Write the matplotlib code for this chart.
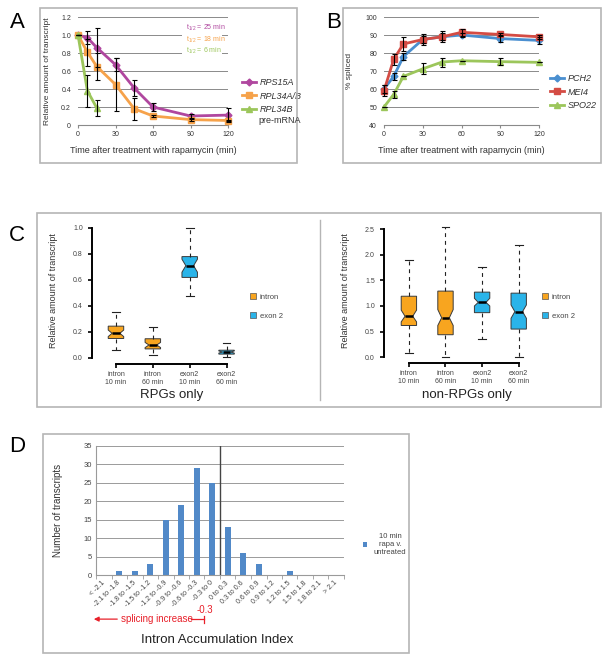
import numpy as np
import matplotlib.pyplot as plt
import matplotlib.transforms as mtransforms
from matplotlib.patches import Rectangle
from matplotlib.lines import Line2D

plt.rcParams['font.family'] = ['Liberation Sans', 'DejaVu Sans']
plt.rcParams['mathtext.fontset'] = 'custom'
plt.rcParams['mathtext.rm'] = 'Liberation Sans'
plt.rcParams['mathtext.it'] = 'Liberation Sans:italic'

W, H = 611, 663

# ---- panel A: decay of RPG transcripts ----
time_pts = [0, 7.5, 15, 30, 45, 60, 90, 120]
rps15a = [1.0, 0.97, 0.86, 0.67, 0.41, 0.20, 0.10, 0.11]
rps15a_err = [0, 0.07, 0.22, 0.07, 0.09, 0.04, 0.02, 0.08]
rpl34ab = [1.0, 0.81, 0.65, 0.45, 0.18, 0.10, 0.06, 0.05]
rpl34ab_err = [0, 0.15, 0.15, 0.29, 0.12, 0.01, 0.01, 0.01]
pre_time = [0, 7.5, 15]
rpl34b_pre = [1.0, 0.38, 0.19]
rpl34b_pre_err = [0, 0.18, 0.09]
half_lives = ['25', '18', '6']

# ---- panel B: % spliced of meiotic transcripts ----
pch2 = [60, 67, 78, 87.5, 89, 90, 88, 87]
pch2_err = [2, 2, 2, 2, 2, 1, 2, 2]
mei4 = [59, 76.5, 85, 87.5, 89, 91.5, 90.3, 89]
mei4_err = [3, 3, 4, 3, 3, 2, 1, 1]
spo22 = [50, 57, 67, 71.2, 75, 75.7, 75.2, 74.8]
spo22_err = [0, 2, 0, 3, 2.5, 0, 2, 0]

# ---- panel C: box plots ----
box_names = ['intron\n10 min', 'intron\n60 min', 'exon2\n10 min', 'exon2\n60 min']
rpg_whislo = [0.06, 0.02, 0.48, 0.005]
rpg_q1 = [0.15, 0.07, 0.62, 0.03]
rpg_med = [0.19, 0.10, 0.71, 0.046]
rpg_q3 = [0.245, 0.148, 0.78, 0.06]
rpg_whishi = [0.356, 0.24, 1.0, 0.113]
rpg_cilo = [0.165, 0.08, 0.66, 0.038]
rpg_cihi = [0.215, 0.12, 0.76, 0.054]

non_whislo = [0.09, 0.0, 0.35, 0.01]
non_q1 = [0.62, 0.44, 0.87, 0.55]
non_med = [0.80, 0.77, 1.07, 0.89]
non_q3 = [1.19, 1.29, 1.27, 1.25]
non_whishi = [1.89, 2.53, 1.76, 2.19]
non_cilo = [0.69, 0.62, 1.00, 0.76]
non_cihi = [0.92, 0.93, 1.15, 1.02]

# ---- panel D: intron accumulation index histogram ----
iai_labels = ['< -2.1', '-2.1 to -1.8', '-1.8 to -1.5', '-1.5 to -1.2',
              '-1.2 to -0.9', '-0.9 to -0.6', '-0.6 to -0.3', '-0.3 to 0',
              '0 to 0.3', '0.3 to 0.6', '0.6 to 0.9', '0.9 to 1.2',
              '1.2 to 1.5', '1.5 to 1.8', '1.8 to 2.1', '> 2.1']
iai_counts = [0, 1, 1, 3, 15, 19, 29, 25, 13, 6, 3, 0, 1, 0, 0, 0]

MAG, ORA, GRN = '#b0479f', '#f6a24a', '#9cc65b'
BLU, RED = '#4a8fd0', '#d44c44'
BOX_ORA, BOX_BLU = '#f8a51f', '#2ab4e9'


def fig_ax(x0, y0, x1, y1):
    # pixel box (top-left origin) -> figure axes
    return fig.add_axes([x0 / W, 1 - y1 / H, (x1 - x0) / W, (y1 - y0) / H])


def frame(x0, y0, x1, y1):
    fig.add_artist(Rectangle((x0 / W, 1 - y1 / H), (x1 - x0) / W, (y1 - y0) / H,
                             transform=fig.transFigure, fill=False,
                             edgecolor='#b5b5b5', lw=1.2))


fig = plt.figure(figsize=(W / 100, H / 100), dpi=100)

for x0, y0, x1, y1 in [(40, 8, 297, 163), (343, 8, 601, 163),
                       (37, 213, 601, 407), (43, 434, 409, 653)]:
    frame(x0, y0, x1, y1)
fig.add_artist(Line2D([320 / W, 320 / W], [1 - 220 / H, 1 - 400 / H],
                      transform=fig.transFigure, color='#b5b5b5', lw=1))

for letter, (px, py) in zip('ABCD', [(17, 22), (334, 22), (17, 235), (17, 447)]):
    fig.text(px / W, 1 - py / H, letter, fontsize=16, ha='center', va='center')


def excel_style(ax, yticks, ylabels):
    for s in ['top', 'right', 'left']:
        ax.spines[s].set_visible(False)
    ax.spines['bottom'].set_color('#8a8a8a')
    ax.spines['bottom'].set_linewidth(0.8)
    ax.set_yticks(yticks)
    ax.set_yticklabels(ylabels)
    ax.yaxis.grid(True, color='#8a8a8a', lw=0.7)
    ax.set_axisbelow(True)
    ax.tick_params(axis='y', length=0, labelsize=5, pad=5, labelcolor='#333')
    ax.tick_params(axis='x', length=2.5, color='#8a8a8a', labelsize=5,
                   labelcolor='#333', pad=2)
    ax.set_xticks([0, 30, 60, 90, 120])


# ---------- A ----------
axA = fig_ax(78, 17, 228, 125)
axA.set_xlim(0, 120)
axA.set_ylim(0, 1.2)
excel_style(axA, [0, 0.2, 0.4, 0.6, 0.8, 1.0, 1.2],
            ['0', '0.2', '0.4', '0.6', '0.8', '1.0', '1.2'])
lA1, = axA.plot(time_pts, rps15a, color=MAG, lw=2, marker='D', ms=3.5, clip_on=False, zorder=3)
lA2, = axA.plot(time_pts, rpl34ab, color=ORA, lw=2, marker='s', ms=4.5, clip_on=False, zorder=3)
lA3, = axA.plot(pre_time, rpl34b_pre, color=GRN, lw=2, marker='^', ms=4.5, clip_on=False, zorder=3)
for y, e in [(rps15a, rps15a_err), (rpl34ab, rpl34ab_err)]:
    axA.errorbar(time_pts, y, yerr=e, fmt='none', ecolor='k', elinewidth=0.8,
                 capsize=1.8, capthick=0.8, zorder=4, clip_on=False)
axA.errorbar(pre_time, rpl34b_pre, yerr=rpl34b_pre_err, fmt='none', ecolor='k',
             elinewidth=0.8, capsize=1.8, capthick=0.8, zorder=4)
axA.add_patch(Rectangle((83, 0.76), 32, 0.38, facecolor='white', edgecolor='none', zorder=1))
for i, (hl, c) in enumerate(zip(half_lives, [MAG, ORA, GRN])):
    axA.text(86, 1.075 - i * 0.125, r't$_{1/2}$ = ' + hl + ' min', color=c,
             fontsize=5, va='center', zorder=2)
axA.set_xlabel('Time after treatment with rapamycin (min)', fontsize=6.5, color='#333')
axA.xaxis.set_label_coords(0.5, -0.19)
axA.set_ylabel('Relative amount of transcript', fontsize=6, color='#333')
axA.yaxis.set_label_coords(-0.18, 0.5)
legA = axA.legend([lA1, lA2, lA3], ['RPS15A', 'RPL34A/B', 'RPL34B'], loc='upper left',
                  bbox_to_anchor=(234 / W, 1 - 70 / H), bbox_transform=fig.transFigure,
                  frameon=False, fontsize=6.5, handlelength=1.5, handletextpad=0.45,
                  labelspacing=0.5)
for t in legA.get_texts():
    t.set_fontstyle('italic')
    t.set_color('#333')
fig.text(258 / W, 1 - 120.5 / H, 'pre-mRNA', fontsize=6.5, va='center', color='#333')

# ---------- B ----------
axB = fig_ax(384, 17, 539, 125)
axB.set_xlim(0, 120)
axB.set_ylim(40, 100)
excel_style(axB, [40, 50, 60, 70, 80, 90, 100],
            ['40', '50', '60', '70', '80', '90', '100'])
lB1, = axB.plot(time_pts, pch2, color=BLU, lw=2, marker='D', ms=3.5, clip_on=False, zorder=3)
lB2, = axB.plot(time_pts, mei4, color=RED, lw=2, marker='s', ms=4.5, clip_on=False, zorder=3)
lB3, = axB.plot(time_pts, spo22, color=GRN, lw=2, marker='^', ms=4.5, clip_on=False, zorder=3)
for y, e in [(pch2, pch2_err), (mei4, mei4_err), (spo22, spo22_err)]:
    axB.errorbar(time_pts, y, yerr=e, fmt='none', ecolor='k', elinewidth=0.8,
                 capsize=1.8, capthick=0.8, zorder=4, clip_on=False)
axB.set_xlabel('Time after treatment with rapamycin (min)', fontsize=6.5, color='#333')
axB.xaxis.set_label_coords(0.5, -0.19)
axB.set_ylabel('% spliced', fontsize=6, color='#333')
axB.yaxis.set_label_coords(-0.2, 0.5)
legB = axB.legend([lB1, lB2, lB3], ['PCH2', 'MEI4', 'SPO22'], loc='upper left',
                  bbox_to_anchor=(542 / W, 1 - 66 / H), bbox_transform=fig.transFigure,
                  frameon=False, fontsize=6.5, handlelength=1.5, handletextpad=0.45,
                  labelspacing=0.5)
for t in legB.get_texts():
    t.set_fontstyle('italic')
    t.set_color('#333')


# ---------- C ----------
def box_panel(ax, stats_cols, ymax, yticks, ylabels, xmin):
    whislo, q1, med, q3, whishi, cilo, cihi = stats_cols
    stats = []
    for i in range(len(med)):
        stats.append(dict(whislo=whislo[i], q1=q1[i], med=med[i], q3=q3[i],
                          whishi=whishi[i], cilo=cilo[i], cihi=cihi[i], fliers=[]))
    parts = ax.bxp(stats, positions=[1, 2, 3, 4], widths=0.42, shownotches=True,
                   patch_artist=True, showfliers=False,
                   boxprops=dict(edgecolor='#3a3a3a', lw=0.7),
                   medianprops=dict(color='k', lw=1.8),
                   whiskerprops=dict(color='#222', lw=0.8, linestyle=(0, (3.5, 3.5))),
                   capprops=dict(color='#222', lw=0.8))
    for b, c in zip(parts['boxes'], [BOX_ORA, BOX_ORA, BOX_BLU, BOX_BLU]):
        b.set_facecolor(c)
    for key in parts:
        for art in parts[key]:
            art.set_clip_on(False)
    ax.set_xlim(xmin, 4.5)
    ax.set_ylim(0, ymax)
    for s in ['top', 'right']:
        ax.spines[s].set_visible(False)
    ax.spines['left'].set_linewidth(1.4)
    ax.spines['left'].set_bounds(0, ymax)
    ax.spines['bottom'].set_linewidth(1.4)
    ax.spines['bottom'].set_bounds(1, 4)
    ax.spines['bottom'].set_position(('outward', 4))
    ax.set_yticks(yticks)
    ax.set_yticklabels(ylabels)
    ax.set_xticks([1, 2, 3, 4])
    ax.set_xticklabels(box_names)
    ax.tick_params(axis='both', length=3, width=1.2, labelsize=5, labelcolor='#444')
    ax.tick_params(axis='x', pad=2.5)
    ax.set_ylabel('Relative amount of transcript', fontsize=6.5, color='#333')
    ax.yaxis.set_label_coords(-0.225, 0.52)
    leg = ax.legend([Line2D([], [], ls='none', marker='s', ms=5, mfc=BOX_ORA, mec='#555', mew=0.5),
                     Line2D([], [], ls='none', marker='s', ms=5, mfc=BOX_BLU, mec='#555', mew=0.5)],
                    ['intron', 'exon 2'], loc='upper left', frameon=False, fontsize=5.5,
                    bbox_to_anchor=(0.99, 0.55), handlelength=0.8, handletextpad=0.4,
                    labelspacing=1.5)
    for t in leg.get_texts():
        t.set_color('#444')


axC1 = fig_ax(92, 228, 245, 358)
box_panel(axC1, [rpg_whislo, rpg_q1, rpg_med, rpg_q3, rpg_whishi, rpg_cilo, rpg_cihi],
          1.0, [0, 0.2, 0.4, 0.6, 0.8, 1.0], ['0.0', '0.2', '0.4', '0.6', '0.8', '1.0'], 0.35)
axC2 = fig_ax(384, 229, 537, 357.3)
box_panel(axC2, [non_whislo, non_q1, non_med, non_q3, non_whishi, non_cilo, non_cihi],
          2.5, [0, 0.5, 1.0, 1.5, 2.0, 2.5], ['0.0', '0.5', '1.0', '1.5', '2.0', '2.5'], 0.32)
fig.text(172 / W, 1 - 395 / H, 'RPGs only', fontsize=9.5, ha='center', va='center', color='#222')
fig.text(467 / W, 1 - 395 / H, 'non-RPGs only', fontsize=9.5, ha='center', va='center', color='#222')

# ---------- D ----------
axD = fig_ax(96, 446, 344, 575)
xD = np.arange(len(iai_counts))
bars = axD.bar(xD, iai_counts, width=0.36, color='#5189c8', zorder=2,
               label='10 min\nrapa v.\nuntreated')
axD.set_xlim(-0.5, len(iai_counts) - 0.5)
axD.set_ylim(0, 35)
axD.set_yticks(range(0, 36, 5))
axD.yaxis.grid(True, color='#9a9a9a', lw=0.7)
axD.set_axisbelow(True)
for s in ['top', 'right']:
    axD.spines[s].set_visible(False)
axD.spines['left'].set_color('#9a9a9a')
axD.spines['bottom'].set_color('#9a9a9a')
axD.axvline(7.5, color='#444', lw=1, zorder=3)
axD.set_xticks(xD)
axD.set_xticklabels(iai_labels, rotation=45, ha='right', va='center',
                    rotation_mode='anchor')
axD.set_xticks(np.arange(-0.5, len(iai_counts), 1), minor=True)
axD.tick_params(axis='x', which='major', length=0, labelsize=5, labelcolor='#444', pad=5)
axD.tick_params(axis='x', which='minor', length=3, color='#9a9a9a')
axD.tick_params(axis='y', length=0, labelsize=5.5, labelcolor='#444', pad=3)
axD.set_ylabel('Number of transcripts', fontsize=7, color='#333')
axD.yaxis.set_label_coords(-0.135, 0.5)
axD.set_xlabel('Intron Accumulation Index', fontsize=9.5, color='#222')
axD.xaxis.set_label_coords(0.49, -0.46)
legD = axD.legend(loc='center left', bbox_to_anchor=(356 / W, 1 - 545 / H),
                  bbox_transform=fig.transFigure, frameon=False, fontsize=5.5,
                  handlelength=0.6, handleheight=0.6, handletextpad=0.8)
for t in legD.get_texts():
    t.set_multialignment('center')
    t.set_color('#444')

# red annotation: splicing increase left of -0.3
tD = mtransforms.blended_transform_factory(axD.transData, axD.transAxes)
red = '#e8202a'
axD.annotate('', xy=(-0.82, -0.342), xytext=(1.05, -0.342), xycoords=tD,
             textcoords=tD, annotation_clip=False,
             arrowprops=dict(arrowstyle='-|>', color=red, lw=0.9, mutation_scale=7))
axD.text(3.42, -0.342, 'splicing increase', transform=tD, color=red, fontsize=7,
         ha='center', va='center')
axD.add_line(Line2D([5.63, 6.5], [-0.342, -0.342], transform=tD, color=red, lw=0.9, clip_on=False))
axD.add_line(Line2D([6.5, 6.5], [-0.32, -0.37], transform=tD, color=red, lw=0.9, clip_on=False))
axD.text(6.5, -0.27, '-0.3', transform=tD, color=red, fontsize=7, ha='center', va='center')

fig.savefig('out.png', dpi=100)
